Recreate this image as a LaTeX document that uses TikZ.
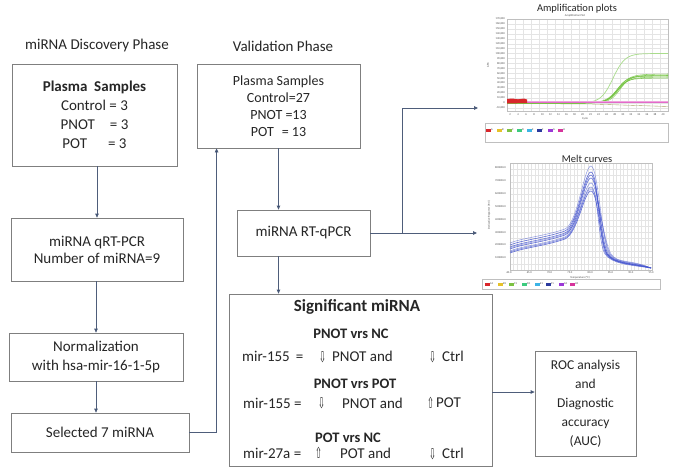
\documentclass[tikz,border=0pt]{standalone}
\usepackage{fontspec}
\setmainfont{Carlito}
\newfontfamily\djv{DejaVu Sans}
\usetikzlibrary{arrows.meta,calc}
\definecolor{boxc}{HTML}{7F7F7F}
\definecolor{linec}{HTML}{4E5D7A}
\definecolor{tipc}{HTML}{1F3864}
\definecolor{txt}{HTML}{262626}
\definecolor{gridc}{HTML}{E4E4E4}
\definecolor{framec}{HTML}{BFBFBF}
\definecolor{lgreen}{HTML}{A9DC8C}
\definecolor{dgreen}{HTML}{6FC23A}
\definecolor{pinkc}{HTML}{E36AC9}
\definecolor{redc}{HTML}{D9262B}
\definecolor{bluec}{HTML}{4656D0}
\newcommand{\dnar}{{\djv\scalebox{0.55}[1]{⇩}}}
\newcommand{\upar}{{\djv\scalebox{0.55}[1]{⇧}}}
\begin{document}
\begin{tikzpicture}[x=1pt,y=-1pt,
  box/.style={draw=boxc, line width=0.8pt, rectangle, inner sep=0pt, align=center, text=txt},
  f15/.style={font=\fontsize{15}{18}\selectfont},
  conn/.style={draw=linec, line width=0.8pt},
  arr/.style={conn, -{Triangle[length=4pt,width=3.6pt,fill=tipc]}},
  ttl/.style={text=txt, font=\fontsize{15}{18}\selectfont, inner sep=0pt},
  sigt/.style={text=txt, font=\fontsize{15}{18}\selectfont, inner sep=0pt, anchor=west},
  sigh/.style={text=txt, font=\fontsize{14.5}{18}\selectfont\bfseries, inner sep=0pt},
  plttl/.style={text=txt, font=\fontsize{10.5}{12}\selectfont, inner sep=0pt},
  tinyt/.style={text=black!70, font=\fontsize{2.8}{3}\selectfont, inner sep=0pt},
  sw/.style={minimum width=5pt, minimum height=3pt, inner sep=0pt}
]
\useasboundingbox (0,0) rectangle (677,471);
\fill[white] (0,0) rectangle (677,471);

% titles
\node[ttl] (t1) at (97,46) {miRNA Discovery Phase};
\node[ttl] (t2) at (283,46) {Validation Phase};

% left column
\node[box, minimum width=165pt, minimum height=102pt, font=\fontsize{15}{19}\selectfont] (b1) at (94.5,115)
  {\textbf{Plasma\ \ Samples}\\Control = 3\\PNOT\hspace{15pt}= 3\\POT\hspace{21pt}= 3};
\node[box, minimum width=172pt, minimum height=63pt, font=\fontsize{15}{17}\selectfont] (b2) at (97,249.5)
  {miRNA qRT-PCR\\Number of miRNA=9};
\node[box, minimum width=174pt, minimum height=48pt, font=\fontsize{15}{19}\selectfont] (b3) at (96,357)
  {Normalization\\with hsa-mir-16-1-5p};
\node[box, minimum width=178pt, minimum height=39pt, font=\fontsize{15}{18}\selectfont] (b4) at (100,432.5)
  {Selected 7 miRNA};

% validation column
\node[box, minimum width=163pt, minimum height=84pt, font=\fontsize{14}{17}\selectfont] (v1) at (278.5,106)
  {Plasma Samples\\Control=27\\PNOT =13\\POT\hspace{8pt}= 13};
\node[box, minimum width=133pt, minimum height=46pt, font=\fontsize{15}{18}\selectfont] (v2) at (303.5,233)
  {miRNA RT-qPCR};
\node[box, minimum width=263pt, minimum height=172pt] (sig) at (360.5,380) {};
\node[box, minimum width=101pt, minimum height=105pt, font=\fontsize{13.5}{19}\selectfont] (roc) at (585.5,403.5)
  {ROC analysis\\and\\Diagnostic\\accuracy\\(AUC)};

% significant miRNA contents
\node[text=txt, font=\fontsize{17}{20}\selectfont\bfseries, inner sep=0pt] (s0) at (357,307) {Significant miRNA};
\node[sigh] (h1) at (351,334) {PNOT vrs NC};
\node[sigt] (l1a) at (242,356) {mir-155\hspace{6pt}=};
\node[sigt] (l1b) at (319,357) {\dnar};
\node[sigt] (l1c) at (332,356) {PNOT and};
\node[sigt] (l1d) at (429,357) {\dnar};
\node[sigt] (l1e) at (442,356) {Ctrl};
\node[sigh] (h2) at (355,384) {PNOT vrs POT};
\node[sigt] (l2a) at (243,403) {mir-155 =};
\node[sigt] (l2b) at (318,403) {\dnar};
\node[sigt] (l2c) at (342,403) {PNOT and};
\node[sigt] (l2d) at (427,403) {\upar};
\node[sigt] (l2e) at (436,403) {POT};
\node[sigh] (h3) at (348,438) {POT vrs NC};
\node[sigt] (l3a) at (243,453) {mir-27a =};
\node[sigt] (l3b) at (315,453) {\upar};
\node[sigt] (l3c) at (340,453) {POT and};
\node[sigt] (l3d) at (429,454) {\dnar};
\node[sigt] (l3e) at (442,453) {Ctrl};

% connectors
\draw[arr] (b1.south -| b2.north) -- (b2.north);
\draw[arr] (b2.south -| b3.north) -- (b3.north);
\draw[arr] (b3.south -| b3.north) -- (b4.north -| b3.north);
\coordinate (up) at ($(v1.south west)+(20,0)$);
\draw[arr] (b4.east) -| (up);
\draw[arr] (v1.south) -- (v2.north -| v1.south);
\draw[arr] (v2.south -| v1.south) -- (sig.north -| v1.south);
\coordinate (ampin) at (478,108);
\coordinate (meltin) at (477,233);
\coordinate (br) at (402,233);
\draw[arr] (v2.east) -- (meltin);
\draw[arr] (br) |- (ampin);
\coordinate (rocy) at ($(sig.east)+(0,12)$);
\draw[arr] (rocy) -- (rocy -| roc.west);

% ---------- amplification plot ----------
\node[plttl] (amptitle) at (577,8.5) {Amplification plots};
\node[tinyt] (ampsub) at (575,15.8) {Amplification Plot};
\foreach \k in {0,...,18} \draw[gridc, line width=0.3pt] (507,{19+\k*4.94}) -- (668,{19+\k*4.94});
\foreach \k in {0,...,20} \draw[gridc, line width=0.3pt] ({507+\k*8.05},19) -- ({507+\k*8.05},111);
\draw[framec, line width=0.4pt] (507,19) rectangle (668,111);
\foreach \v [count=\i from 0] in {170,160,...,10} \node[tinyt, anchor=east] at (505,{19+\i*4.94}) {\v,000};
\node[tinyt, anchor=east] at (505,{19+17*4.94}) {0};
\node[tinyt, anchor=east] at (505,{19+18*4.94}) {-10,000};
\foreach \i in {1,...,20} {\pgfmathtruncatemacro{\cy}{2*\i}
  \node[tinyt] at ({507+\i*8.05-5},114.5) {\cy};}
\node[tinyt] (cyc) at (585,119) {Cycle};
\node[tinyt, rotate=90] (drn) at (488,65) {ΔRn};
% curves
\draw[black!35!olive!60, line width=0.35pt] (507,103.5) -- (590,104) -- (668,106.5);
\draw[lgreen, line width=0.7pt] (507,103) -- (580,103) -- plot[domain=580:668,samples=50] (\x,{103-49.5/(1+exp(-(\x-613)/6))});
\foreach \h/\c/\s in {24/617/5,25/618/5.5,26/617/5,27/619/5.5,28/618/6,26.5/620/5} {
  \draw[dgreen, line width=0.55pt, opacity=0.8] (507,103) -- (585,103) -- plot[domain=585:668,samples=45] (\x,{103-\h/(1+exp(-(\x-\c)/\s))-(\x-585)*0.012});}
\draw[pinkc!60, line width=2.2pt] (507,102) -- (668,102);
\draw[pinkc, line width=0.8pt] (507,102) -- (668,102);
\fill[redc] (507,99) -- (512,98.5) -- (518,99.3) -- (524,98.6) -- (527,99.5) -- (527,103) -- (507,103.5) -- cycle;
% legend
\draw[framec, line width=0.4pt] (485,123) rectangle (668,142);
\foreach \xx/\cc/\ll in {488/D9262B/A,499/E6C229/B,509/7CC242/C,519/3CCB7F/D,529/3CB4E6/E,539/2B3A9E/F,550/9B38D6/G,560/D6339B/H} {
  \definecolor{tmpc}{HTML}{\cc}
  \node[sw, fill=tmpc] at (\xx,130) {};
  \node[tinyt, anchor=west] at (\xx+3,130) {\ll};}

% ---------- melt curves ----------
\foreach \k in {0,...,40} \draw[gridc, line width=0.3pt] ({510+\k*3.55},163) -- ({510+\k*3.55},270);
\foreach \k in {0,...,17} \draw[gridc, line width=0.3pt] (510,{163+\k*6.3}) -- (652,{163+\k*6.3});
\draw[framec, line width=0.4pt] (510,163) rectangle (652,270);
\foreach \yy/\vv in {168/800000.0,181/700000.0,194/600000.0,207/500000.0,220/400000.0,233/300000.0,245/200000.0,258/100000.0}
  \node[tinyt, anchor=east] at (506,\yy) {\vv};
\foreach \vv [count=\i from 0] in {60.0,65.0,70.0,75.0,80.0,85.0,90.0,95.0}
  \node[tinyt] at ({509+\i*20.3},273) {\vv};
\node[tinyt] (tmp) at (580,277.3) {Temperature (°C)};
\node[tinyt, rotate=90] (drv) at (489,215) {Derivative Reporter (-Rn')};
\foreach \a/\p/\o/\d in {243/166/0.55/2,245/172/0.9/0,247/175/0.85/-1,249/178/0.9/1,251/183/0.6/3,252/187/0.7/-2,253/191/0.9/0,248/189/0.5/4} {
  \draw[bluec, line width=0.55pt, opacity=\o] (510,\a) .. controls (522,{\a-5}) and (545,{\a-7}) .. (565,{\a-14})
    .. controls (578,{\a-20}) and (584,\p) .. (591,\p) .. controls (598,\p) and ({600+\d},243) .. ({607+\d},254)
    .. controls ({614+\d},264) and (630,{263-\d}) .. (651,268);}
\node[plttl] (melttitle) at (587,158.5) {Melt curves};
\draw[framec, line width=0.4pt] (482,279) rectangle (660,289);
\foreach \xx/\cc/\ll in {487/D9262B/A1,500/E6C229/B1,511/7CC242/C1,524/3CCB7F/D1,537/3CB4E6/E1,548/2B3A9E/F1,561/9B38D6/G1,572/D6339B/H1} {
  \definecolor{tmpc}{HTML}{\cc}
  \node[sw, fill=tmpc] at (\xx,284) {};
  \node[tinyt, anchor=west] at (\xx+3,284) {\ll};}
\end{tikzpicture}
\end{document}
